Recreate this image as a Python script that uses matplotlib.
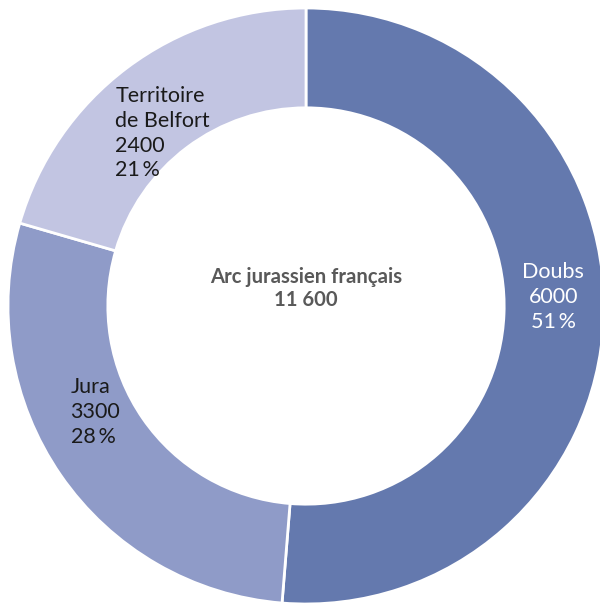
import matplotlib
matplotlib.use('Agg')
import matplotlib.pyplot as plt

# ===== DATA =====
regions = ['Doubs', 'Jura', 'Territoire\nde Belfort']
values = [6000, 3300, 2400]
colors = ['#6479ae', '#8f9bc8', '#c2c5e2']
title = 'Arc jurassien français'
total_label = '11 600'
# ===== DATA =====

plt.rcParams['font.family'] = ['Lato', 'DejaVu Sans']

fig = plt.figure(figsize=(6.0, 6.05), dpi=100)
ax = fig.add_axes([0, 0, 1, 1])

wedges, _ = ax.pie(values, colors=colors, startangle=90, counterclock=False,
                   radius=1.0,
                   wedgeprops=dict(width=0.335, edgecolor='white', linewidth=2))

total = sum(values)
# label anchor (x, y, ha) for each wedge, in axes data units
label_pos = [(0.83, 0.03, 'center'), (-0.79, -0.356, 'left'), (-0.64, 0.58, 'left')]
label_colors = ['white', '#1a1a1a', '#1a1a1a']
for name, v, (lx, ly, ha), c in zip(regions, values, label_pos, label_colors):
    pct = round(100 * v / total)
    ax.text(lx, ly, f'{name}\n{v}\n{pct}\u2009%', ha=ha, va='center',
            multialignment=ha, fontsize=15.5, color=c, linespacing=1.3)

ax.text(0.0, 0.06, f'{title}\n{total_label}', ha='center', va='center',
        fontsize=14.6, fontweight='bold', color='#595959', linespacing=1.2)

ax.set_xlim(-306 / 298, 294 / 298)
ax.set_ylim(-299 / 298, 306 / 298)
ax.set_aspect('equal')
ax.axis('off')

fig.savefig('out.png', dpi=100, facecolor='white')
